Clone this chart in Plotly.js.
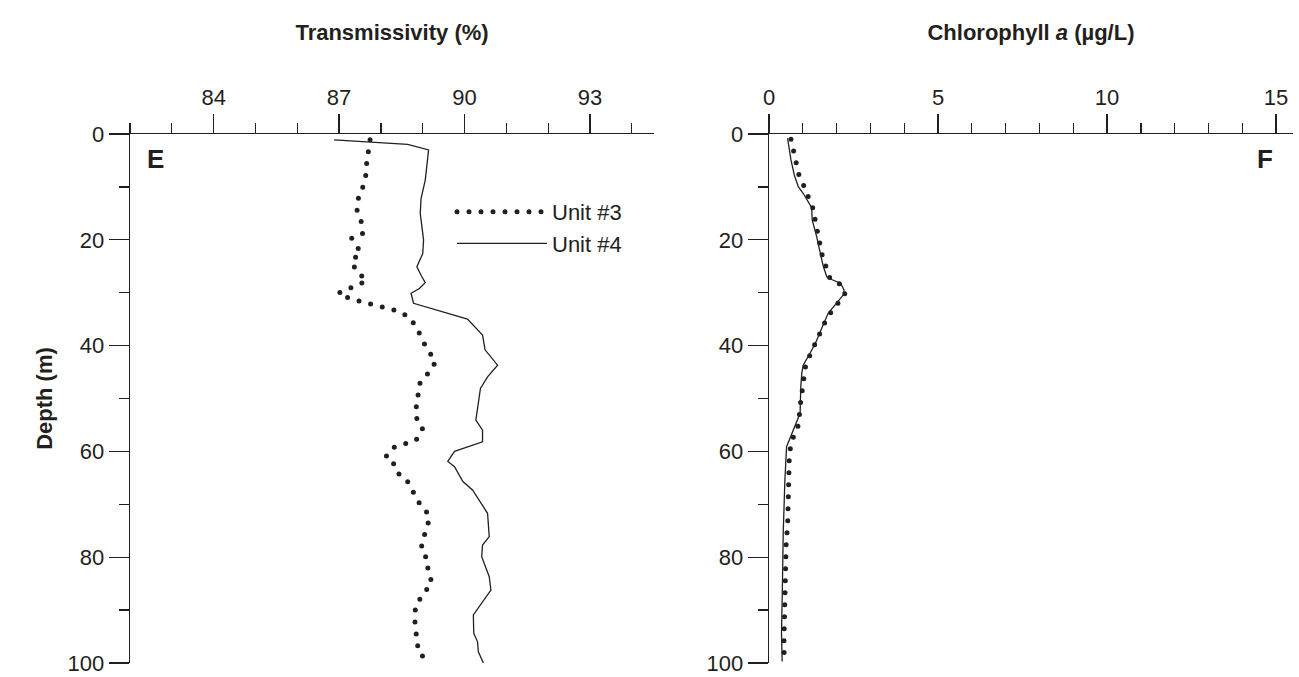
<!DOCTYPE html>
<html><head><meta charset="utf-8">
<script src="https://cdn.plot.ly/plotly-3.0.1.min.js"></script>
<style>
html,body{margin:0;padding:0;background:#fff}
#chart{width:1299px;height:677px}
</style>
</head><body><div id="chart"></div>
<script>
// ---- Panel E: Transmissivity (%) ----
const transDepth3 = [1.1,3.3,5.5,7.75,9.96,12.2,14.4,16.6,18.8,19.7,20.7,22.4,24.0,26.1,27.6,28.5,29.3,30.1,31.1,31.8,32.3,32.8,33.4,34.5,36.6,38.8,40.8,43.0,45.0,46.8,49.0,51.2,53.4,55.6,57.9,58.6,59.3,61.1,62.7,64.7,65.9,68.1,70.2,72.0,74.2,76.4,78.5,80.7,82.7,84.7,86.9,89.1,91.2,93.4,95.7,97.9,99.8];
const trans3 = [87.74,87.69,87.66,87.64,87.57,87.46,87.43,87.53,87.56,87.30,87.39,87.52,87.30,87.42,87.66,87.47,87.20,86.98,87.26,87.54,87.82,88.09,88.38,88.66,88.86,88.98,89.12,89.31,89.16,88.94,88.89,88.85,88.83,89.00,88.84,88.56,88.28,88.11,88.36,88.45,88.67,88.80,88.95,89.15,89.12,89.01,88.96,89.13,89.12,89.22,89.02,88.83,88.81,88.82,88.87,88.89,89.15];
const transDepth4 = [1.1,1.95,3.0,5.5,8.7,12.2,15.0,17.5,20.0,22.6,25.1,26.7,28.1,29.2,30.1,32.0,35.0,38.0,40.8,43.7,45.9,48.1,54.1,56.0,58.2,60.0,61.9,62.9,65.7,67.3,71.7,76.1,77.7,79.9,82.1,83.7,86.2,90.9,94.4,96.0,97.9,100];
const trans4 = [86.88,88.64,89.14,89.10,89.06,88.96,88.94,88.98,89.02,89.00,88.86,88.96,89.06,88.92,88.72,88.78,90.07,90.43,90.49,90.79,90.55,90.38,90.27,90.43,90.43,89.76,89.60,89.76,89.96,90.19,90.55,90.59,90.43,90.41,90.51,90.59,90.63,90.21,90.22,90.31,90.33,90.45];

// ---- Panel F: Chlorophyll a (µg/L) ----
const chlDepth3 = [1.0,3.2,5.4,7.6,9.8,12.0,14.2,16.4,18.7,20.9,23.1,25.3,27.4,28.6,30.4,32.5,34.7,36.9,39.1,41.3,43.5,45.7,47.8,50.1,52.3,54.6,56.7,59.0,61.2,63.4,65.6,67.8,70.0,72.2,74.4,76.6,78.8,81.0,83.2,85.4,87.7,89.9,92.1,94.3,96.6,98.8];
const chl3 = [0.65,0.73,0.80,0.88,1.03,1.19,1.31,1.37,1.46,1.51,1.58,1.68,1.81,2.16,2.25,1.97,1.72,1.56,1.41,1.25,1.09,1.04,0.98,0.95,0.90,0.90,0.75,0.64,0.60,0.59,0.58,0.57,0.57,0.57,0.55,0.51,0.50,0.50,0.50,0.49,0.47,0.47,0.47,0.45,0.44,0.45];
const chlDepth4 = [0.8,4.9,7.8,10.0,11.2,13.9,16.3,19.4,22.9,25.1,27.0,27.5,28.2,29.5,30.4,32.3,33.9,36.7,39.3,41.5,43.7,45.2,47.8,52.8,56.0,59.1,65.4,75.5,84.3,94.4,99.7];
const chl4 = [0.55,0.65,0.75,0.87,1.01,1.26,1.28,1.41,1.53,1.61,1.71,1.85,2.12,2.22,2.20,1.95,1.75,1.56,1.39,1.21,1.01,0.97,0.94,0.92,0.72,0.52,0.47,0.42,0.40,0.37,0.39];

const seriesNames = ['Unit #3','Unit #4'];
const transTicks = [84,87,90,93];
const chlTicks = [0,5,10,15];
const depthTicks = [0,20,40,60,80,100];

const INK = '#231f20';
const FONT = 'Liberation Sans, Arial, Helvetica, sans-serif';
const DOT = {color: INK, width: 5, dash: '0px,12px'};
const SOLID = {color: INK, width: 1.3};

const traces = [
  {x: trans3, y: transDepth3, xaxis:'x', yaxis:'y', mode:'lines', name: seriesNames[0], line: DOT, showlegend:true},
  {x: trans4, y: transDepth4, xaxis:'x', yaxis:'y', mode:'lines', name: seriesNames[1], line: SOLID, showlegend:true},
  {x: chl4, y: chlDepth4, xaxis:'x2', yaxis:'y2', mode:'lines', name: seriesNames[1], line: SOLID, showlegend:false},
  {x: chl3, y: chlDepth3, xaxis:'x2', yaxis:'y2', mode:'lines', name: seriesNames[0], line: DOT, showlegend:false}
];

function xAx(dom, range, ticks, minorStart, titleText, anchor){
  return {
    domain: dom, range: range, anchor: anchor, side: 'top',
    tickmode: 'array', tickvals: ticks, ticktext: ticks.map(String),
    ticks: 'outside', ticklen: 19, tickwidth: 1.3, tickcolor: INK,
    showline: true, linecolor: INK, linewidth: 1.3,
    showgrid: false, zeroline: false, fixedrange: true,
    tickfont: {size: 22, color: INK, family: FONT},
    minor: {ticks:'outside', tickmode:'linear', tick0: minorStart, dtick: 1, ticklen: 10, tickwidth: 1.3, tickcolor: INK, showgrid:false},
    title: {text: titleText, font: {size: 22, color: INK, family: FONT}, standoff: 38}
  };
}
function yAx(dom, anchor, titleText){
  return {
    domain: dom, range: [100, 0], anchor: anchor,
    tickmode: 'array', tickvals: depthTicks, ticktext: depthTicks.map(String),
    ticks: 'outside', ticklen: 20, tickwidth: 1.3, tickcolor: INK,
    showline: true, linecolor: INK, linewidth: 1.3,
    showgrid: false, zeroline: false, fixedrange: true,
    tickfont: {size: 22, color: INK, family: FONT},
    minor: {ticks:'outside', tickmode:'linear', tick0: 0, dtick: 10, ticklen: 10, tickwidth: 1.3, tickcolor: INK, showgrid:false},
    title: {text: titleText, font: {size: 22, color: INK, family: FONT}, standoff: 9}
  };
}

const yDom = [14/677, 543/677];
const layout = {
  width: 1299, height: 677,
  margin: {l:0, r:0, t:0, b:0},
  paper_bgcolor: '#fff', plot_bgcolor: '#fff',
  font: {family: FONT, size: 22, color: INK},
  showlegend: true,
  legend: {x: 452/1299, y: 1-191/677, xanchor:'left', yanchor:'top', bgcolor:'rgba(0,0,0,0)',
           font: {size: 22, color: INK, family: FONT}, itemwidth: 90, tracegroupgap: 0, traceorder:'normal'},
  xaxis: xAx([130/1299, 654/1299], [82, 94.53], transTicks, 82, '<b>Transmissivity (%)</b>', 'y'),
  yaxis: yAx(yDom, 'x', '<b>Depth (m)</b>'),
  xaxis2: xAx([769/1299, 1293/1299], [0, 15.5], chlTicks, 0, '<b>Chlorophyll <i>a</i> (µg/L)</b>', 'y2'),
  yaxis2: yAx(yDom, 'x2', ''),
  annotations: [
    {text:'<b>E</b>', xref:'x domain', yref:'y domain', x:0.028, y:0.985, xanchor:'left', yanchor:'top', showarrow:false, font:{size:26, color:INK, family:FONT}},
    {text:'<b>F</b>', xref:'x2 domain', yref:'y2 domain', x:0.965, y:0.985, xanchor:'right', yanchor:'top', showarrow:false, font:{size:26, color:INK, family:FONT}}
  ]
};

function roundDots(gd){
  gd.querySelectorAll('path.js-line').forEach(p => {
    const d = p.style.strokeDasharray || '';
    if (d.trim().startsWith('0')) p.style.strokeLinecap = 'round';
  });
}
Plotly.newPlot('chart', traces, layout, {staticPlot: true, displayModeBar: false}).then(gd => {
  roundDots(gd);
  gd.on('plotly_afterplot', () => roundDots(gd));
});
</script></body></html>
